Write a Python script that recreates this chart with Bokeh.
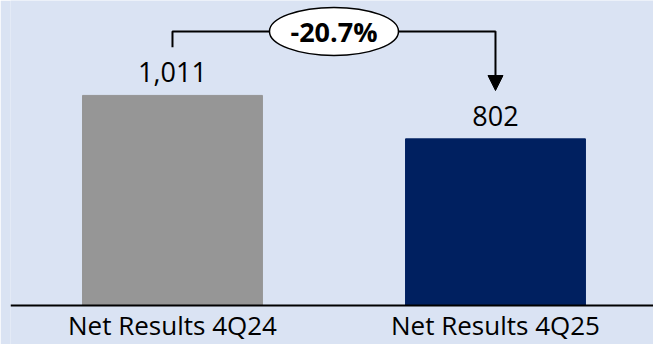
from bokeh.plotting import figure
from bokeh.models import Range1d, Span, Arrow, NormalHead, ColumnDataSource
from bokeh.core.properties import value
from bokeh.embed import file_html
from bokeh.resources import INLINE

# Quarterly net results
categories = ["Net Results 4Q24", "Net Results 4Q25"]
results = [1011, 802]
bar_colors = ["#969696", "#002060"]

BG = "#DAE3F3"
FONT = "Open Sans"

xs = list(range(len(categories)))
change = (results[1] / results[0] - 1) * 100
change_label = f"{change:.1f}%"

p = figure(width=653, height=344, output_backend="svg", toolbar_location=None,
           min_border_left=10, min_border_right=0, min_border_top=0, min_border_bottom=0,
           x_range=Range1d(-0.5015, 1.4892), y_range=Range1d(-188, 1468))
p.background_fill_color = BG
p.border_fill_color = BG
p.outline_line_color = None
p.grid.visible = False
p.axis.visible = False

# baseline
p.add_layout(Span(location=0, dimension="width", line_color="black", line_width=2))

src = ColumnDataSource(dict(x=xs, top=results, color=bar_colors, cat=categories,
                            base=[0] * len(xs),
                            label=[f"{v:,}" for v in results]))
p.vbar(x="x", top="top", width=0.557, color="color", source=src)

# value labels above bars
p.text(x="x", y="top", text="label", source=src, text_align="center",
       text_baseline="bottom", y_offset=-13, text_font=value(FONT),
       text_font_size="27px", text_color="black")

# category labels under the baseline
p.text(x="x", y="base", text="cat", source=src, text_align="center",
       text_baseline="top", y_offset=2, text_font=value(FONT),
       text_font_size="26px", text_color="black")

# change bracket between the two bars
top = max(results) * 1.305
left_end = results[0] * 1.229
tip = results[1] * 1.29
p.line(x=[xs[0], xs[0], xs[1], xs[1]], y=[left_end, top, top, top * 0.999],
       line_color="black", line_width=2)
p.add_layout(Arrow(x_start=xs[1], y_start=top, x_end=xs[1], y_end=tip,
                   line_color="black", line_width=2,
                   end=NormalHead(size=15, fill_color="black", line_color="black")))
mid = (xs[0] + xs[1]) / 2
p.ellipse(x=[mid], y=[top], width=129, height=48, width_units="screen",
          height_units="screen", fill_color="white", line_color="black", line_width=1.5)
p.text(x=[mid], y=[top], text=[change_label], text_align="center",
       text_baseline="middle", text_font=value(FONT), text_font_size="27px",
       text_font_style="bold", text_color="black")

open("out.html", "w").write(file_html(p, INLINE))
